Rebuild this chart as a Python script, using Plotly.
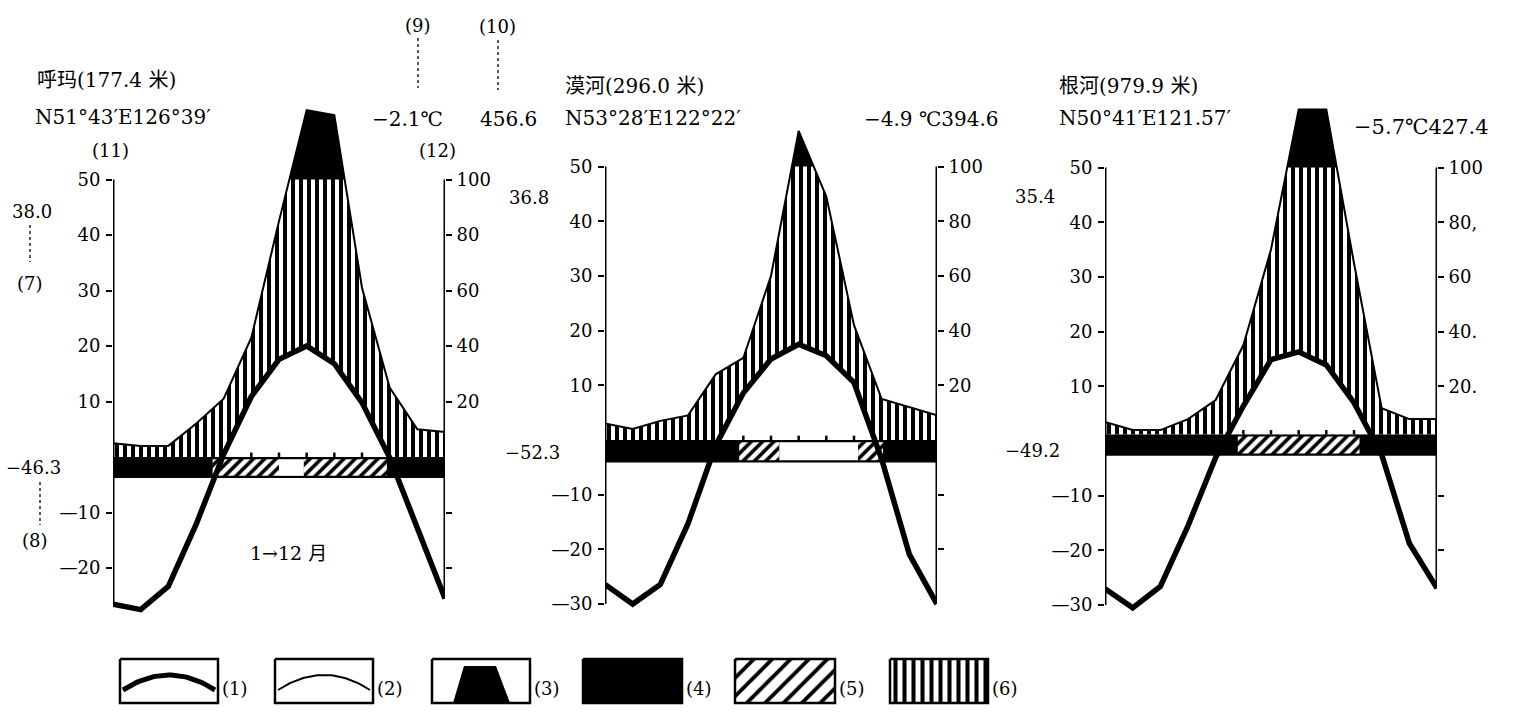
import numpy as np
import plotly.graph_objects as go

W, H = 1524, 712

# ---------------- data ----------------
month_pos = list(range(13))          # curve vertices on the 12-month axis (0 .. 12)
band_ticks = [5, 6, 7, 8, 9]         # month marks on the frost band

stations = ["呼玛", "漠河", "根河"]

# mean monthly temperature, deg C
temp_huma = [-26.5, -27.5, -23.3, -12.2, 0.5, 10.9, 17.6, 20.0, 16.8, 9.8, -0.1, -13.0, -25.5]
temp_mohe = [-26.4, -30.0, -26.4, -15.3, -1.0, 8.6, 14.8, 17.5, 15.4, 10.5, -3.5, -20.9, -30.0]
temp_genhe = [-27.0, -30.5, -26.6, -15.5, -3.0, 6.4, 14.9, 16.3, 13.9, 7.0, -2.5, -18.7, -26.9]

# monthly precipitation, mm (above 100 mm the scale is compressed)
prec_huma = [5, 4, 4, 12, 21, 43, 85, 225, 216, 61, 25, 10, 9]
prec_mohe = [6, 4, 7, 9, 24, 30, 60, 165, 89, 42, 15, 12, 9]
prec_genhe = [7, 4, 4, 8, 15, 35, 70, 206, 206, 65, 12, 8, 8]

# frost band periods (month units): hatched = possible frost, open = frost free
frost_huma = [("hatch", 3.6, 6.0), ("open", 6.0, 6.9), ("hatch", 6.9, 9.9)]
frost_mohe = [("hatch", 4.85, 6.3), ("open", 6.3, 9.15), ("hatch", 9.15, 10.05)]
frost_genhe = [("hatch", 4.8, 9.2)]

left_ticks_1 = [50, 40, 30, 20, 10, -10, -20]
left_ticks_23 = [50, 40, 30, 20, 10, -10, -20, -30]
right_ticks = [100, 80, 60, 40, 20, -20, -40]
right_text_12 = ["100", "80", "60", "40", "20", "", ""]
right_text_3 = ["100", "80,", "60", "40.", "20.", "", ""]

temps = [temp_huma, temp_mohe, temp_genhe]
precs = [prec_huma, prec_mohe, prec_genhe]
frosts = [frost_huma, frost_mohe, frost_genhe]

# ---------------- layout constants ----------------
FONT = "DejaVu Serif, Noto Sans CJK SC, serif"
PANELS = [
    dict(x0=113, x1=445, zero=457, ppu=5.55, band=(0.0, -3.8), lt=left_ticks_1, rt=right_text_12),
    dict(x0=605, x1=937, zero=440, ppu=5.47, band=(0.0, -4.1), lt=left_ticks_23, rt=right_text_12),
    dict(x0=1105, x1=1437, zero=441, ppu=5.47, band=(1.2, -2.7), lt=left_ticks_23, rt=right_text_3),
]
PX_TOP, PX_BOT = 90, 625
P_COMPRESS = 10.0   # mm per temperature degree above 100 mm
STRIPES = dict(shape="|", fgcolor="black", bgcolor="white", size=8, solidity=0.5, fgopacity=1)
HATCH = dict(shape="/", fgcolor="black", bgcolor="white", size=8, solidity=0.45, fgopacity=1)


def ptrans(p):
    p = np.asarray(p, float)
    return np.where(p <= 100, p / 2.0, 50 + (p - 100) / P_COMPRESS)


def segments_above(xs, ys, level):
    segs, cur = [], None
    for i in range(len(xs)):
        x, y = xs[i], ys[i]
        if i > 0:
            x0, y0 = xs[i - 1], ys[i - 1]
            if (y0 - level) * (y - level) < 0:
                xc = x0 + (level - y0) * (x - x0) / (y - y0)
                if y > level:
                    cur = [(xc, level)]
                else:
                    cur.append((xc, level))
                    segs.append(cur)
                    cur = None
        if y > level:
            if cur is None:
                cur = [(x, level)]
            cur.append((x, y))
    if cur is not None:
        cur.append((xs[-1], level))
        segs.append(cur)
    return segs


fig = go.Figure()
shapes = []
annotations = []

for i, p in enumerate(PANELS):
    xa = "x" if i == 0 else f"x{i+1}"
    ya = "y" if i == 0 else f"y{i+1}"
    yr = f"y{i+4}"
    xs = np.array(month_pos, float)
    T = np.array(temps[i], float)
    ty = ptrans(precs[i])
    top, bot = p["band"]
    xmin, xmax = xs[0], xs[-1]
    common = dict(xaxis=xa, yaxis=ya, hoverinfo="skip", showlegend=False)

    # humid period (vertical stripes) between precipitation and band
    fig.add_trace(go.Scatter(
        x=list(xs) + [xmax, xmin], y=list(ty) + [top, top], fill="toself", mode="none",
        fillcolor="white", fillpattern=STRIPES, **common))
    # precipitation above 100 mm (black cap)
    for seg in segments_above(xs, ty, 50.0):
        sx, sy = zip(*seg)
        fig.add_trace(go.Scatter(x=list(sx), y=list(sy), fill="toself", mode="none",
                                 fillcolor="black", **common))
    # white area under the temperature curve
    for seg in segments_above(xs, T, top):
        sx, sy = zip(*seg)
        fig.add_trace(go.Scatter(x=list(sx), y=list(sy), fill="toself", mode="none",
                                 fillcolor="white", **common))
    # precipitation curve
    fig.add_trace(go.Scatter(x=xs, y=ty, mode="lines", line=dict(color="black", width=2), **common))
    # frost band
    fig.add_trace(go.Scatter(x=[xmin, xmax, xmax, xmin], y=[top, top, bot, bot], fill="toself",
                             mode="none", fillcolor="black", **common))
    inset = 0.4
    for kind, a, b in frosts[i]:
        kw = dict(fillcolor="white")
        if kind == "hatch":
            kw["fillpattern"] = HATCH
        fig.add_trace(go.Scatter(x=[a, b, b, a], y=[top - inset, top - inset, bot + inset, bot + inset],
                                 fill="toself", mode="none", **kw, **common))
    tx, tyy = [], []
    for m in band_ticks:
        tx += [m, m, None]
        tyy += [top, top + 0.8, None]
    fig.add_trace(go.Scatter(x=tx, y=tyy, mode="lines", line=dict(color="black", width=2.5), **common))
    # temperature curve
    fig.add_trace(go.Scatter(x=xs, y=T, mode="lines", line=dict(color="black", width=5.5), **common))
    # dummy trace for right axis
    fig.add_trace(go.Scatter(x=[xmin], y=[0], mode="lines", opacity=0, xaxis=xa, yaxis=yr,
                             hoverinfo="skip", showlegend=False))

    # axis lines
    lbot = min(T[0], min(p["lt"]))
    rbot = min(T[-1], min(right_ticks) / 2.0)
    shapes.append(dict(type="line", xref=xa, yref=ya, x0=xmin, x1=xmin, y0=lbot, y1=50,
                       line=dict(color="black", width=3)))
    shapes.append(dict(type="line", xref=xa, yref=ya, x0=xmax, x1=xmax, y0=rbot, y1=50,
                       line=dict(color="black", width=3)))

    r0 = (p["zero"] - PX_BOT) / p["ppu"]
    r1 = (p["zero"] - PX_TOP) / p["ppu"]
    xkey = "xaxis" if i == 0 else f"xaxis{i+1}"
    ykey = "yaxis" if i == 0 else f"yaxis{i+1}"
    fig.layout[xkey] = dict(domain=[p["x0"] / W, p["x1"] / W], range=[xmin, xmax], visible=False,
                            anchor=ya)
    lt = p["lt"]
    fig.layout[ykey] = dict(
        domain=[(H - PX_BOT) / H, (H - PX_TOP) / H], range=[r0, r1], anchor=xa,
        showgrid=False, zeroline=False, showline=False, ticks="outside", ticklen=6, tickwidth=2,
        tickcolor="black", tickvals=lt, ticktext=[str(v) if v > 0 else "—" + str(-v) for v in lt],
        tickfont=dict(family=FONT, size=18, color="black"), ticklabelstandoff=2)
    fig.layout[f"yaxis{i+4}"] = dict(
        overlaying=ya, side="right", anchor=xa, range=[2 * r0, 2 * r1],
        showgrid=False, zeroline=False, showline=False, ticks="outside", ticklen=6, tickwidth=2,
        tickcolor="black", tickvals=right_ticks, ticktext=p["rt"],
        tickfont=dict(family=FONT, size=18, color="black"), ticklabelstandoff=1)

# ---------------- text labels ----------------
TEXTS = [
    ("呼玛(177.4 米)", 35, 80, "left", 20),
    ("N51°43′E126°39′", 33, 117, "left", 20),
    ("(11)", 110, 150, "center", 18),
    ("(9)", 418, 25, "center", 18),
    ("(10)", 498, 27, "center", 18),
    ("−2.1℃", 370, 119, "left", 20),
    ("456.6", 478, 119, "left", 20),
    ("(12)", 437, 150, "center", 18),
    ("38.0", 10, 212, "left", 18),
    ("(7)", 30, 283, "center", 18),
    ("−46.3", 4, 467, "left", 18),
    ("(8)", 35, 540, "center", 18),
    ("1→12 月", 248, 553, "left", 19),
    ("漠河(296.0 米)", 563, 86, "left", 20),
    ("N53°28′E122°22′", 563, 118, "left", 20),
    ("−4.9 ℃394.6", 862, 119, "left", 20),
    ("36.8", 507, 198, "left", 18),
    ("−52.3", 503, 452, "left", 18),
    ("根河(979.9 米)", 1057, 86, "left", 20),
    ("N50°41′E121.57′", 1057, 118, "left", 20),
    ("−5.7℃427.4", 1352, 127, "left", 21),
    ("35.4", 1013, 196, "left", 18),
    ("−49.2", 1003, 450, "left", 18),
]
for t, x, y, anc, sz in TEXTS:
    annotations.append(dict(text=t, x=x / W, y=1 - y / H, xref="paper", yref="paper",
                            xanchor=anc, yanchor="middle", showarrow=False,
                            font=dict(family=FONT, size=sz, color="black")))

LEADERS = [(418, 38, 88), (498, 40, 90), (30, 225, 262), (40, 482, 525)]
for x, y0, y1 in LEADERS:
    shapes.append(dict(type="line", xref="paper", yref="paper", x0=x / W, x1=x / W,
                       y0=1 - y0 / H, y1=1 - y1 / H, line=dict(color="black", width=1.3, dash="dot")))

# ---------------- custom legend ----------------
LA = dict(xaxis="x4", yaxis="y7", hoverinfo="skip", showlegend=False)
BOXES = [(120, 218), (275, 373), (432, 530), (583, 682), (735, 835), (890, 988)]
BY0, BY1 = 659, 703
for k, (a, b) in enumerate(BOXES):
    kw = dict(fillcolor="white")
    if k == 3:
        kw = dict(fillcolor="black")
    elif k == 4:
        kw["fillpattern"] = dict(shape="/", fgcolor="black", bgcolor="white", size=13, solidity=0.3,
                                 fgopacity=1)
    elif k == 5:
        kw["fillpattern"] = dict(shape="|", fgcolor="black", bgcolor="white", size=9, solidity=0.45,
                                 fgopacity=1)
    fig.add_trace(go.Scatter(x=[a, b, b, a, a], y=[BY0, BY0, BY1, BY1, BY0], fill="toself",
                             mode="lines", line=dict(color="black", width=2.5), **kw, **LA))
    annotations.append(dict(text=f"({k+1})", x=(b + 2) / W, y=1 - 688 / H, xref="paper", yref="paper",
                            xanchor="left", yanchor="middle", showarrow=False,
                            font=dict(family=FONT, size=18, color="black")))
for k, wdt in [(0, 5), (1, 2)]:
    a, b = BOXES[k]
    u = np.linspace(-1, 1, 41)
    cx, hw = (a + b) / 2, (b - a) / 2 - 3
    fig.add_trace(go.Scatter(x=cx + hw * u, y=690 - 15 * (1 - u ** 2), mode="lines",
                             line=dict(color="black", width=wdt), **LA))
a, b = BOXES[2]
fig.add_trace(go.Scatter(x=[a + 21, a + 32, a + 64, a + 78], y=[BY1, 666, 666, BY1], fill="toself",
                         mode="none", fillcolor="black", **LA))

fig.layout["xaxis4"] = dict(domain=[0, 1], range=[0, W], visible=False, anchor="y7")
fig.layout["yaxis7"] = dict(domain=[0, 0.1], range=[H, H - 0.1 * H], visible=False, anchor="x4")

fig.update_layout(width=W, height=H, margin=dict(l=0, r=0, t=0, b=0),
                  paper_bgcolor="white", plot_bgcolor="rgba(0,0,0,0)",
                  showlegend=False, shapes=shapes, annotations=annotations)
fig.write_html("out.html")
